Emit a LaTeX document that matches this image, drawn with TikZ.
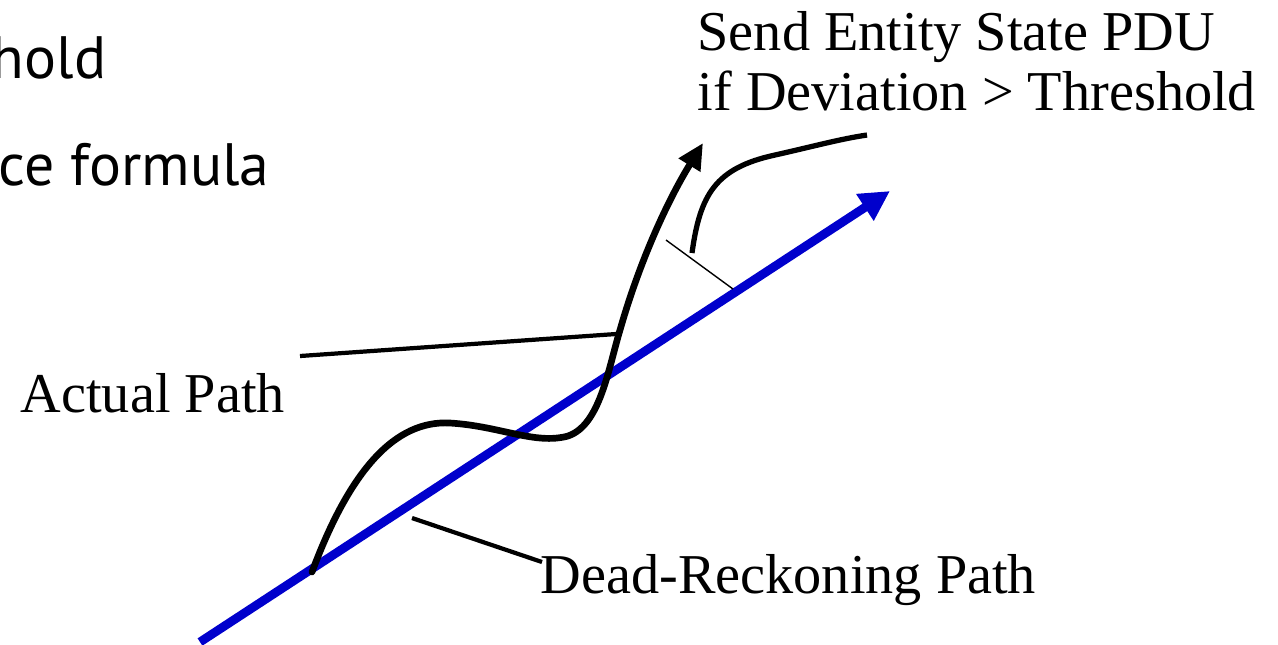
\documentclass[tikz,border=0pt]{standalone}
\usepackage{fontspec}
\setmainfont{Liberation Serif}
\newfontfamily\slidefont{PT Sans}
\usetikzlibrary{arrows.meta}
\definecolor{drblue}{RGB}{0,0,204}
\begin{document}
\begin{tikzpicture}[x=0.01cm,y=-0.01cm,
  label/.style={font=\fontsize{16}{17}\selectfont,inner sep=0pt},
  leader/.style={line width=1.2pt}]
\useasboundingbox (0,0) rectangle (1278,644);
% cut-off slide text
\node[font=\slidefont\fontsize{17}{20}\selectfont,inner sep=0pt,anchor=base east] (hold) at (107,78) {hold};
\node[font=\slidefont\fontsize{17}{20}\selectfont,inner sep=0pt,anchor=base east] (formula) at (270,185) {ce formula};
% paths
\coordinate (drstart) at (200,642);
\coordinate (drend) at (890,191);
\draw[drblue,line width=2.5pt,-{Triangle[length=0.3cm,width=0.3cm]}] (drstart)--(drend);
\coordinate (apstart) at (312,572);
\coordinate (apend) at (703,143);
\draw[line width=1.9pt,line cap=round,-{Triangle[length=0.26cm,width=0.24cm]}] (apstart)
  .. controls (350,470) and (395,420) .. (450,423)
  .. controls (500,426) and (535,445) .. (568,436)
  .. controls (600,425) and (608,370) .. (620,330)
  .. controls (640,260) and (668,200) .. (apend);
% deviation
\coordinate (devA) at (666,240);
\coordinate (devB) at (733,289);
\draw[line width=0.4pt] (devA)--(devB);
% labels
\node[label,anchor=base west] (actual) at (20,412) {Actual Path};
\node[label,anchor=base west] (deadrec) at (540,593) {Dead-Reckoning Path};
\node[label,anchor=base west,align=left] (send) at (697,110) {Send Entity State PDU\\if Deviation > Threshold};
% leaders
\coordinate (actA) at (300,356);
\coordinate (actB) at (616,334);
\draw[leader] (actA)--(actB);
\coordinate (drA) at (412,518);
\coordinate (drB) at (542,562);
\draw[leader] (drA)--(drB);
\coordinate (sendA) at (692,253);
\coordinate (sendB) at (867,135);
\draw[leader,line width=1.5pt] (sendA) .. controls (700,195) and (715,168) .. (775,155)
  .. controls (815,146) and (840,139) .. (sendB);
\end{tikzpicture}
\end{document}
